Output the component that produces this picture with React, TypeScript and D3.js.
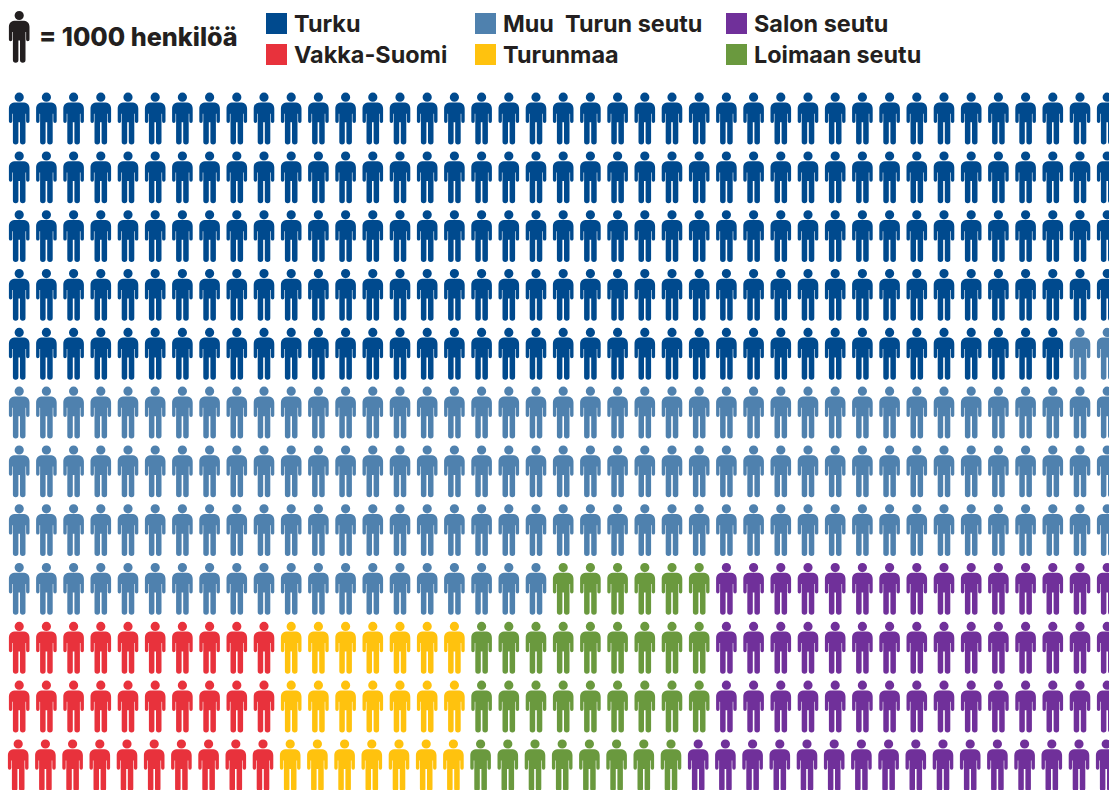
import React from 'react';
import * as d3 from 'd3';

const regions = ['Turku', 'Muu  Turun seutu', 'Vakka-Suomi', 'Turunmaa', 'Loimaan seutu', 'Salon seutu'];
const regionColors = ['#004a8e', '#4f81ae', '#e8323c', '#ffc20e', '#6a993e', '#70309a'];

// people per row, left to right, twelve rows
const turku = [41, 41, 41, 41, 39, 0, 0, 0, 0, 0, 0, 0];
const muuTurunSeutu = [0, 0, 0, 0, 2, 41, 41, 41, 20, 0, 0, 0];
const vakkaSuomi = [0, 0, 0, 0, 0, 0, 0, 0, 0, 10, 10, 10];
const turunmaa = [0, 0, 0, 0, 0, 0, 0, 0, 0, 7, 7, 7];
const loimaanSeutu = [0, 0, 0, 0, 0, 0, 0, 0, 6, 9, 9, 8];
const salonSeutu = [0, 0, 0, 0, 0, 0, 0, 0, 15, 15, 15, 16];

const perRow = [turku, muuTurunSeutu, vakkaSuomi, turunmaa, loimaanSeutu, salonSeutu];

// legend columns: [region index, column, row]
const legendOrder = [[0, 0, 0], [2, 0, 1], [1, 1, 0], [3, 1, 1], [5, 2, 0], [4, 2, 1]];
const legendX = [266, 475, 726];
const legendY = [13, 44];

const FONT = 'Inter, "Liberation Sans", sans-serif';

const x = d3.scaleLinear().domain([0, 40]).range([19.2, 1107.2]);
const y = d3.scaleLinear().domain([0, 11]).range([92.7, 739.5]);

// figure drawn around x = 0 with the top of the head at y = 0
const personPath = (() => {
  const p = d3.path();
  p.moveTo(4.6, 4.5);
  p.arc(0, 4.5, 4.6, 0, Math.PI * 2);
  p.closePath();
  p.moveTo(-3.5, 9.7);
  p.lineTo(3.5, 9.7);
  p.bezierCurveTo(7.5, 9.7, 10.3, 11.5, 10.3, 16);
  p.lineTo(10.3, 28.6);
  p.arc(8.6, 28.6, 1.7, 0, Math.PI);
  p.lineTo(6.9, 21);
  p.lineTo(6.3, 21);
  p.lineTo(6.3, 49);
  p.arc(3.55, 49, 2.75, 0, Math.PI);
  p.lineTo(0.8, 29.5);
  p.lineTo(-0.8, 29.5);
  p.lineTo(-0.8, 49);
  p.arc(-3.55, 49, 2.75, 0, Math.PI);
  p.lineTo(-6.3, 21);
  p.lineTo(-6.9, 21);
  p.lineTo(-6.9, 28.6);
  p.arc(-8.6, 28.6, 1.7, 0, Math.PI);
  p.lineTo(-10.3, 16);
  p.bezierCurveTo(-10.3, 11.5, -7.5, 9.7, -3.5, 9.7);
  p.closePath();
  return p.toString();
})();

const cells: { col: number; row: number; region: number }[] = [];
d3.range(12).forEach(row => {
  let col = 0;
  perRow.forEach((counts, region) => {
    d3.range(counts[row]).forEach(() => {
      cells.push({ col, row, region });
      col += 1;
    });
  });
});

export default function App() {
  return (
    <svg width={1109} height={790} style={{ position: 'absolute', left: 0, top: 0, background: '#fff' }} fontFamily={FONT}>
      <path d={personPath} fill="#231f20" transform="translate(19.2,11)" />
      <text x={39} y={46} fontSize={25.2} fontWeight={800} fill="#231f20">= 1000 henkilöä</text>
      {legendOrder.map(([region, c, r]) => (
        <g key={region}>
          <rect x={legendX[c]} y={legendY[r]} width={21} height={21} fill={regionColors[region]} />
          <text x={legendX[c] + 28} y={legendY[r] + 19} fontSize={23.4} fontWeight={700} fill="#231f20" xmlSpace="preserve">{regions[region]}</text>
        </g>
      ))}
      {cells.map(d => (
        // the bottom row sits a pixel further left in the source
        <path key={`${d.row}-${d.col}`} d={personPath} fill={regionColors[d.region]} transform={`translate(${x(d.col) - (d.row === 11 ? 1 : 0)},${y(d.row)})`} />
      ))}
    </svg>
  );
}
